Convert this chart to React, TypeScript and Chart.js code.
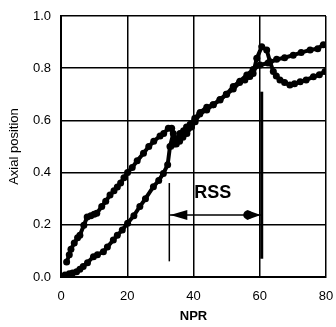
import React, { useEffect, useRef } from "react";
import { Chart, registerables } from "chart.js";

Chart.register(...registerables);

const xTicks = [0, 20, 40, 60, 80];
const yTicks = [0, 0.2, 0.4, 0.6, 0.8, 1.0];

const upperX = [1.7, 2.5, 3.0, 4.0, 5.0, 5.7, 6.9, 7.9, 9.0, 10.0, 10.8, 12.3, 13.5, 14.8, 16.0, 17.0, 18.0, 19.0, 20.1, 21.5, 23.0, 24.9, 26.5, 28.0, 29.9, 31.0, 32.4, 33.4, 34.1, 35.0, 35.9, 37.0, 37.9, 39.0, 40.4, 42.0, 44.0, 46.0, 48.0, 50.0, 52.0, 54.0, 56.1, 58.0, 60.1, 62.5, 65.1, 67.5, 70.1, 72.5, 75.2, 77.5, 79.2];
const upperY = [0.057, 0.085, 0.106, 0.13, 0.15, 0.16, 0.198, 0.23, 0.235, 0.24, 0.244, 0.27, 0.29, 0.314, 0.33, 0.345, 0.36, 0.38, 0.40, 0.42, 0.445, 0.474, 0.50, 0.52, 0.54, 0.55, 0.57, 0.57, 0.51, 0.53, 0.55, 0.56, 0.575, 0.585, 0.608, 0.63, 0.65, 0.66, 0.678, 0.70, 0.73, 0.75, 0.774, 0.795, 0.812, 0.82, 0.834, 0.84, 0.85, 0.86, 0.87, 0.875, 0.89];

const lowerX = [1.2, 2.5, 3.5, 4.7, 5.7, 6.7, 8.0, 9.8, 11.0, 12.8, 14.0, 15.8, 17.0, 18.5, 20.1, 22.0, 23.8, 25.5, 27.9, 29.5, 30.9, 32.2, 32.9, 33.9, 34.8, 35.8, 36.8, 38.0, 39.4, 40.5, 41.9, 44.0, 45.9, 48.0, 49.9, 52.0, 53.9, 55.5, 57.0, 58.0, 59.1, 60.6, 62.1, 63.1, 64.1, 65.0, 66.1, 67.5, 69.1, 70.5, 72.2, 74.0, 76.2, 78.0, 79.7];
const lowerY = [0.008, 0.012, 0.015, 0.02, 0.03, 0.04, 0.055, 0.078, 0.085, 0.097, 0.115, 0.142, 0.16, 0.18, 0.206, 0.235, 0.27, 0.30, 0.346, 0.37, 0.397, 0.43, 0.50, 0.55, 0.51, 0.52, 0.535, 0.55, 0.575, 0.595, 0.625, 0.64, 0.66, 0.68, 0.70, 0.72, 0.745, 0.755, 0.768, 0.78, 0.838, 0.882, 0.87, 0.825, 0.787, 0.77, 0.755, 0.745, 0.736, 0.74, 0.748, 0.755, 0.767, 0.775, 0.787];

// RSS annotation (data units)
const rssLeftX = 32.7;
const rssRightX = 60.6;
const rssLeftLineY = [0.06, 0.36];
const rssRightLineY = [0.07, 0.71];
const rssArrowY = 0.238;
const rssLabel = "RSS";
const rssLabelPos = [45.8, 0.32];

const zip = (xs: number[], ys: number[]) => xs.map((x, i) => ({ x, y: ys[i] }));

const annotationPlugin = {
  id: "rssAnnot",
  afterDatasetsDraw(chart: any) {
    const { ctx, scales } = chart;
    const xs = scales.x;
    const ys = scales.y;
    const py = ys.getPixelForValue(rssArrowY);
    const lx = xs.getPixelForValue(rssLeftX);
    const rx = xs.getPixelForValue(rssRightX);
    ctx.save();
    ctx.strokeStyle = "#000";
    ctx.fillStyle = "#000";
    ctx.lineWidth = 1.5;
    ctx.beginPath();
    ctx.moveTo(lx, py);
    ctx.lineTo(rx, py);
    ctx.stroke();
    // left arrowhead
    ctx.beginPath();
    ctx.moveTo(lx + 1, py);
    ctx.lineTo(lx + 18, py - 5);
    ctx.lineTo(lx + 18, py + 5);
    ctx.closePath();
    ctx.fill();
    // right arrowhead
    ctx.beginPath();
    ctx.moveTo(rx - 1, py);
    ctx.lineTo(rx - 15, py - 5);
    ctx.lineTo(rx - 15, py + 5);
    ctx.closePath();
    ctx.fill();
    ctx.beginPath();
    ctx.arc(rx - 14, py, 4.5, 0, Math.PI * 2);
    ctx.fill();
    // label
    ctx.font = "bold 18px 'Liberation Sans', Arial, sans-serif";
    ctx.textAlign = "center";
    ctx.textBaseline = "middle";
    ctx.fillText(rssLabel, xs.getPixelForValue(rssLabelPos[0]), ys.getPixelForValue(rssLabelPos[1]));
    ctx.restore();
  },
};

export default function App() {
  const ref = useRef<HTMLCanvasElement>(null);
  useEffect(() => {
    if (!ref.current) return;
    const font = { family: "'Liberation Sans', Arial, sans-serif", size: 13 };
    const curve = {
      showLine: true,
      borderColor: "#000",
      backgroundColor: "#000",
      borderWidth: 4,
      pointRadius: 3.5,
      pointBorderWidth: 0,
    };
    const chart = new Chart(ref.current, {
      type: "scatter",
      data: {
        datasets: [
          { ...curve, data: zip(upperX, upperY) },
          { ...curve, data: zip(lowerX, lowerY) },
          {
            data: zip([rssLeftX, rssLeftX], rssLeftLineY),
            showLine: true,
            borderColor: "#000",
            borderWidth: 1.5,
            pointRadius: 0,
          },
          {
            data: zip([rssRightX, rssRightX], rssRightLineY),
            showLine: true,
            borderColor: "#000",
            borderWidth: 3,
            pointRadius: 0,
          },
        ],
      },
      options: {
        animation: false,
        responsive: false,
        layout: { padding: { left: 7, right: 10, top: 16, bottom: 0 } },
        plugins: { legend: { display: false }, tooltip: { enabled: false } },
        scales: {
          x: {
            type: "linear",
            min: 0,
            max: 80,
            afterBuildTicks: (s: any) => {
              s.ticks = xTicks.map((v) => ({ value: v }));
            },
            afterFit: (s: any) => {
              s.height = 50;
              s.paddingRight = 0;
              s.paddingLeft = 0;
            },
            grid: { color: "#000", lineWidth: 1.5, drawTicks: false },
            border: { color: "#000", width: 2 },
            ticks: { color: "#000", font, padding: 12, maxRotation: 0 },
            title: { display: true, text: "NPR", color: "#000", font: { ...font, weight: "bold" }, padding: { top: 0, bottom: 3 } },
          },
          y: {
            type: "linear",
            min: 0,
            max: 1,
            afterBuildTicks: (s: any) => {
              s.ticks = yTicks.map((v) => ({ value: v }));
            },
            afterFit: (s: any) => {
              s.width = 54;
              s.paddingTop = 0;
              s.paddingBottom = 0;
            },
            grid: { color: "#000", lineWidth: 1.5, drawTicks: false },
            border: { color: "#000", width: 2 },
            ticks: { color: "#000", font, padding: 10, callback: (v: any) => Number(v).toFixed(1) },
            title: { display: true, text: "Axial position", color: "#000", font, padding: 0 },
          },
        },
      },
      plugins: [annotationPlugin],
    } as any);
    return () => chart.destroy();
  }, []);
  return (
    <div style={{ position: "absolute", left: 0, top: 0, width: 336, height: 327, background: "#fff" }}>
      <canvas ref={ref} width={336} height={327} />
    </div>
  );
}
